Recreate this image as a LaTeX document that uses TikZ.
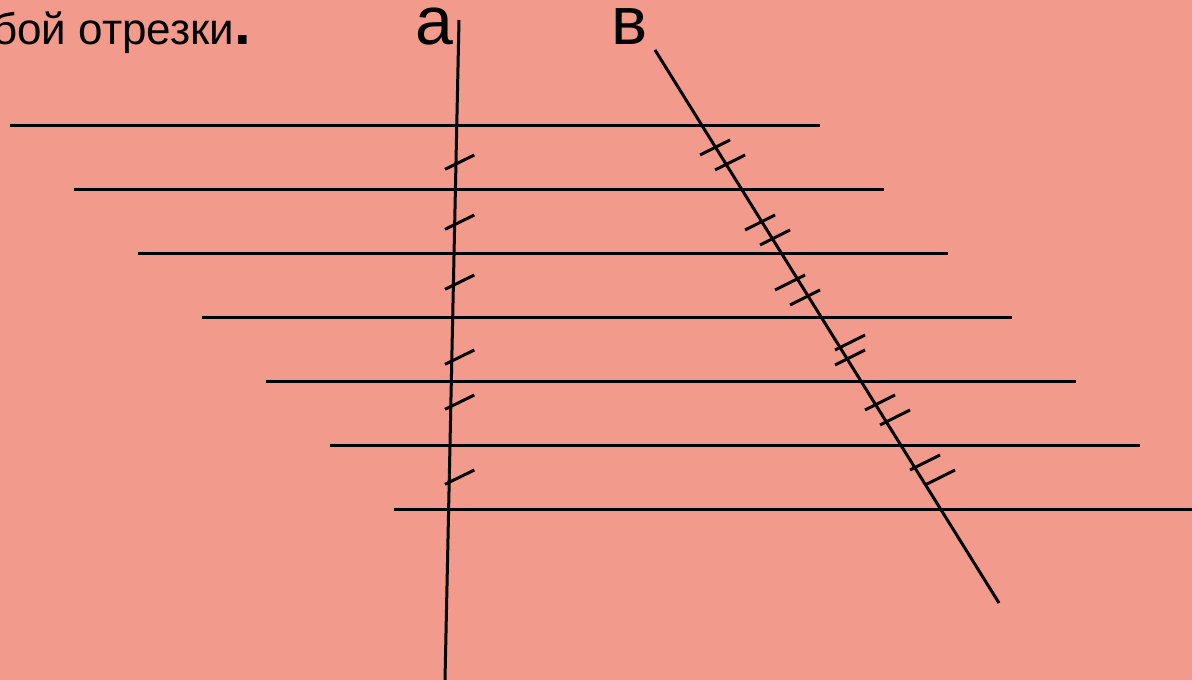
\documentclass[tikz,border=0pt]{standalone}
\usepackage{fontspec}
\setmainfont{Liberation Sans}
\usetikzlibrary{positioning}
\definecolor{salmon}{HTML}{F29A8B}
\definecolor{ink}{HTML}{000000}
\tikzset{
  rule/.style={draw=ink,line width=3pt,line cap=butt},
  hatch/.style={draw=ink,line width=3pt},
  letterlbl/.style={font=\fontsize{68}{68}\selectfont,inner sep=0pt,
                    anchor=base west,text=ink},
  caption/.style={font=\fontsize{44}{44}\selectfont,inner sep=0pt,
                  anchor=base east,text=ink}
}

\begin{document}
\begin{tikzpicture}[x=1pt,y=-1pt]
    \fill[salmon] (0,0) rectangle (1192,680);
    \useasboundingbox (0,0) rectangle (1192,680);
    % caption, cut at the left edge
    \node[caption] (cap) at (251,44)
      {бой отрезки{\fontsize{60}{60}\selectfont\bfseries.}};
    \node[letterlbl] (la) at (415,44) {а};
    \node[letterlbl] (lb) at (611,44) {в};
    % the two secants
    \coordinate (atop) at (459,20);
    \coordinate (abot) at (445,680);
    \coordinate (btop) at (655,50);
    \coordinate (bbot) at (999,603);
    \draw[rule] (atop) -- (abot);
    \draw[rule] (btop) -- (bbot);
    % parallel lines
    \foreach \i in {0,...,6}{
      \coordinate (p\i w) at (10+64*\i,125+64*\i);
      \coordinate (p\i e) at (820+64*\i,125+64*\i);
      \draw[rule] (p\i w) -- (p\i e);
    }
    % single ticks on a
    \foreach \yy in {169.3,229.3,289.3,364.3,409.3,484.3}{
      \draw[hatch] (445,\yy) -- ++(29.3,-14.3);
    }
    % double ticks on b
    \foreach \xx/\yy in {700/155,715/170,745/230,760/245,775/290,790/305,
                         835/350,835/365,865/410,880/425,910/470,925/485}{
      \draw[hatch] (\xx,\yy) -- ++(30,-15);
    }
  \end{tikzpicture}
\end{document}
